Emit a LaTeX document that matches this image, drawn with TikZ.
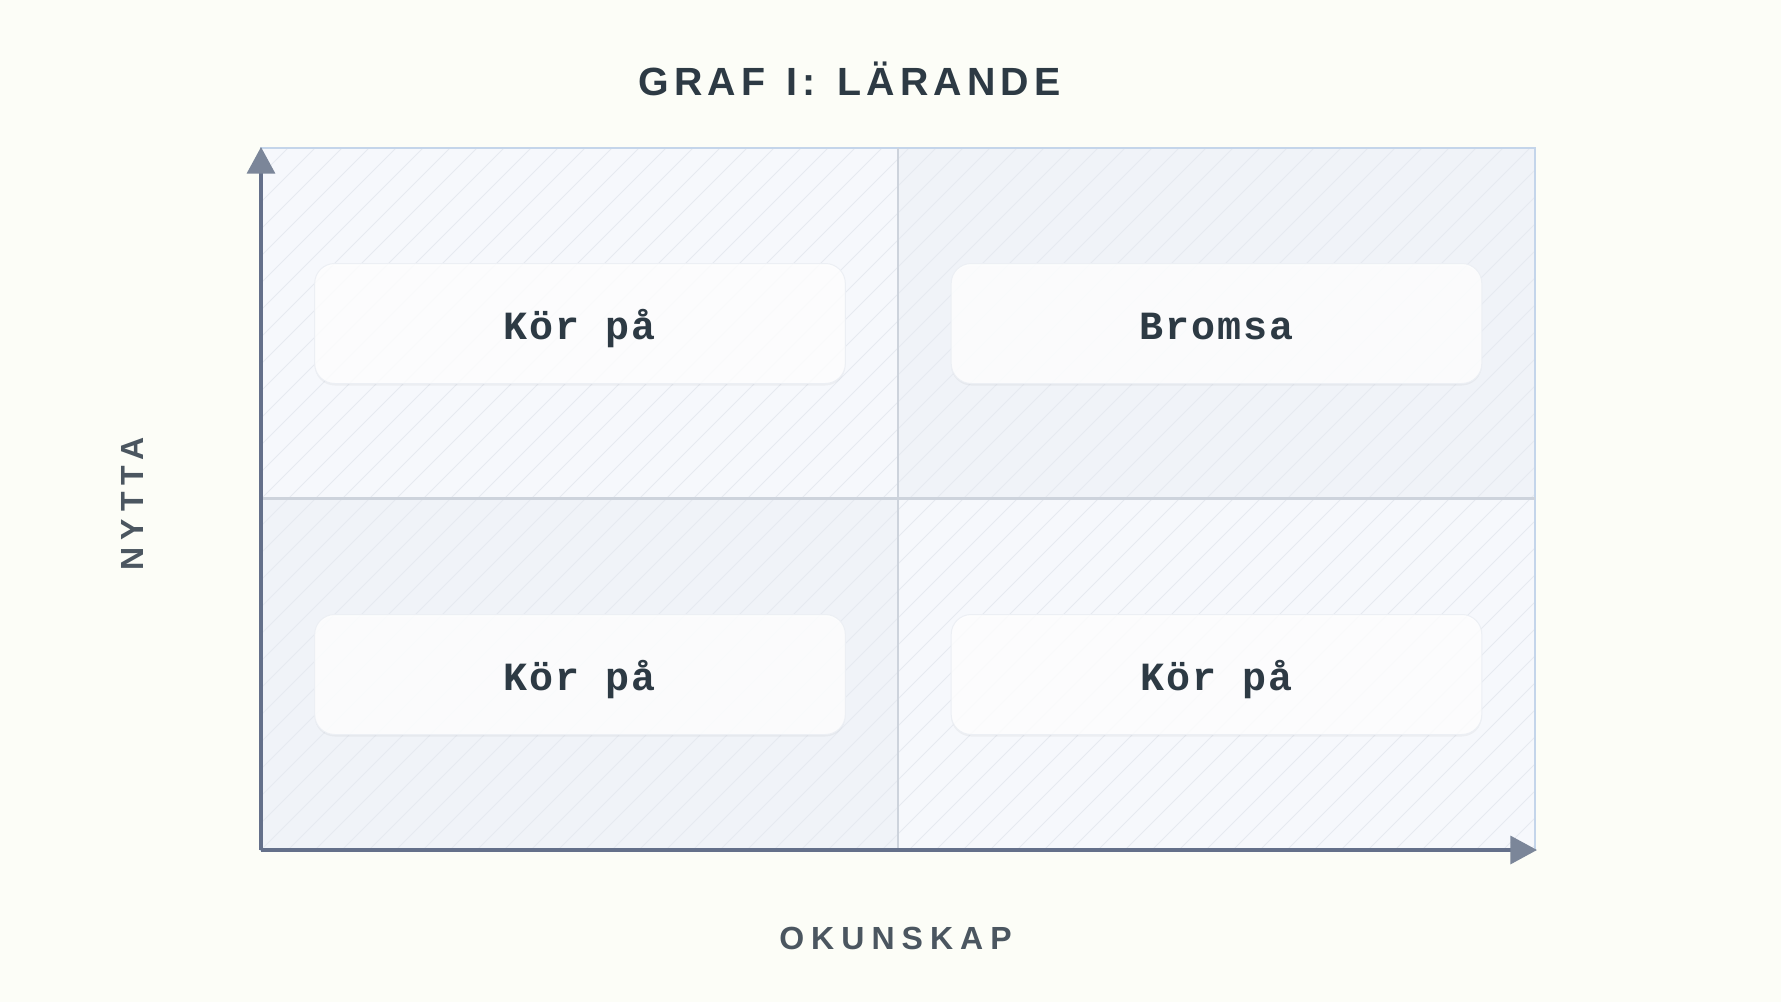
\documentclass[tikz,border=0pt]{standalone}
\usepackage{fontspec}
\setmainfont{Liberation Sans}
\setmonofont{Liberation Mono}
\usetikzlibrary{arrows.meta,shadows}
\definecolor{pagebg}{HTML}{FCFDF7}
\definecolor{quadlight}{HTML}{F6F8FC}
\definecolor{quaddark}{HTML}{F0F3F8}
\definecolor{hatchline}{HTML}{E6EAF0}
\definecolor{frameline}{HTML}{C4D5EA}
\definecolor{divline}{HTML}{CDD3DC}
\definecolor{axisline}{HTML}{64708A}
\definecolor{axistip}{HTML}{7B8699}
\definecolor{boxline}{HTML}{ECEFF4}
\definecolor{inkdark}{HTML}{2D3A44}
\definecolor{inkaxis}{HTML}{4B5660}
\tikzset{
  quadbox/.style={draw=boxline, line width=0.75pt, fill=white, fill opacity=0.85, text opacity=1,
    rounded corners=15pt, minimum width=398pt, minimum height=90pt, inner sep=0pt,
    text height=23.4pt, text depth=0pt, text=inkdark,
    font=\fontsize{30}{36}\selectfont\ttfamily\bfseries\addfontfeatures{LetterSpace=5},
    drop shadow={shadow xshift=0pt, shadow yshift=-1.5pt, opacity=0.04, fill=black}},
  axislabel/.style={text=inkaxis, inner sep=0pt,
    font=\fontsize{24}{28}\selectfont\bfseries\addfontfeatures{LetterSpace=22}},
  hatch/.style={draw=hatchline, line width=0.75pt},
  axis/.style={draw=axisline, line width=2.6pt, -{Triangle[length=20pt,width=21pt,color=axistip]}}
}
\begin{document}
\begin{tikzpicture}[x=0.75pt,y=-0.75pt]
  \fill[pagebg] (0,0) rectangle (1781,1002);
  \coordinate (O) at (261,850);
  \coordinate (Ytop) at (261,147);
  \coordinate (Xend) at (1537,850);
  \coordinate (Mid) at (898,498.5);
  \fill[quadlight] (261,148) rectangle (898,498.5);
  \fill[quaddark] (898,148) rectangle (1535,498.5);
  \fill[quaddark] (261,498.5) rectangle (898,850);
  \fill[quadlight] (898,498.5) rectangle (1535,850);
  \begin{scope}
    \clip (261,148) rectangle (1535,850);
    \foreach \k in {0,...,74}
      \draw[hatch] ({-441+27*\k},850) -- ++(702,-702);
  \end{scope}
  \draw[frameline, line width=1.5pt] (261,148) rectangle (1535,850);
  \draw[divline, line width=2pt] (898,148) -- (898,850);
  \draw[divline, line width=2pt] (261,498.5) -- (1535,498.5);
  \draw[axis] (O) -- (Ytop);
  \draw[axis] (O) -- (Xend);
  \node[quadbox] (Q1) at (580,323.5) {Kör på};
  \node[quadbox] (Q2) at (1216.5,323.5) {Bromsa};
  \node[quadbox] (Q3) at (580,674.5) {Kör på};
  \node[quadbox] (Q4) at (1216.5,674.5) {Kör på};
  \node[text=inkdark, inner sep=0pt, font=\fontsize{29.5}{34}\selectfont\bfseries\addfontfeatures{LetterSpace=13}] (Title) at (849.5,79) {GRAF\hspace{0.55em}I:\hspace{0.55em}LÄRANDE};
  \node[axislabel] (Xlabel) at (895.5,938.5) {OKUNSKAP};
  \node[axislabel, rotate=90] (Ylabel) at (132,504) {NYTTA};
\end{tikzpicture}
\end{document}
